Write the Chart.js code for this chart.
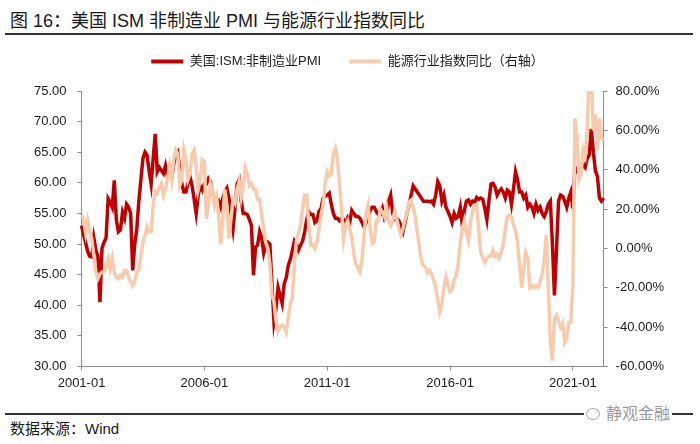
<!DOCTYPE html>
<html>
<head>
<meta charset="utf-8">
<script src="https://cdn.jsdelivr.net/npm/chart.js@4.4.1/dist/chart.umd.min.js"></script>
<style>
  body { margin: 0; width: 700px; height: 444px; background: #fff; position: relative; overflow: hidden;
         font-family: "Liberation Sans", "Noto Sans CJK SC", sans-serif; }
  #title { position: absolute; left: 10px; top: 6px; font-size: 18px; color: #1a1a1a; white-space: nowrap; }
  .rule { position: absolute; left: 5px; width: 688px; background: #333; }
  #source { position: absolute; left: 10px; top: 417px; font-size: 15px; color: #1a1a1a; }
  #mark { position: absolute; left: 584px; top: 400px; font-size: 16px; color: #9a9a9a; background: #fff; padding: 0 2px; }
  #mark i { display: inline-block; width: 12px; height: 10px; border: 1px solid #aaa; border-radius: 50%; margin-right: 6px; vertical-align: -1px; }
  #wrap { position: absolute; left: 0; top: 27px; width: 700px; height: 373px; }
</style>
</head>
<body>
<div id="title">图 16：美国 ISM 非制造业 PMI 与能源行业指数同比</div>
<div class="rule" style="top:33px;height:2px;"></div>
<div id="wrap"><canvas id="pmiChart"></canvas></div>
<div class="rule" style="top:413px;height:1.5px;"></div>
<div id="mark"><i></i>静观金融</div>
<div id="source">数据来源：Wind</div>

<script>
// Monthly categories 2001-01 .. 2022-04
const months = [];
for (let y = 2001; y <= 2022; y++) {
  for (let m = 1; m <= 12; m++) {
    if (y === 2022 && m > 4) break;
    months.push(y + '-' + String(m).padStart(2, '0'));
  }
}
const xTickLabels = ['2001-01', '2006-01', '2011-01', '2016-01', '2021-01'];

// 美国:ISM:非制造业PMI (left axis)
const pmi = [
  53.0, 51.5, 50.2, 48.8, 48.0, 47.9, 51.0, 49.0, 48.0, 40.5,
  49.3, 50.3, 51.0, 57.4, 56.8, 56.0, 60.4, 54.0, 52.0, 52.3,
  55.2, 54.2, 56.5, 56.0, 55.0, 45.7, 50.0, 52.5, 57.0, 60.5,
  64.0, 65.0, 64.5, 62.0, 59.8, 64.0, 68.0, 61.8, 62.5, 62.0,
  61.5, 62.8, 61.0,
  61.5, 60.8, 63.0, 64.5, 65.0, 62.0, 59.8, 58.5, 58.5, 60.0,
  61.0, 59.5, 57.3, 55.0, 58.0, 59.5, 58.8, 59.8, 59.8, 60.7,
  60.2, 58.5, 57.0, 56.5, 57.0, 56.0, 57.5, 58.5, 59.1, 57.5,
  55.0, 52.5, 56.0, 59.8, 60.5, 57.0, 55.0, 55.0, 54.8, 54.0,
  53.0, 44.9,
  49.5, 49.8, 52.0, 51.0, 48.5, 49.8, 50.3, 50.0, 43.5, 37.3,
  39.5, 42.9, 41.6, 40.3, 43.5, 44.5, 46.5, 47.5, 49.0, 50.5,
  50.0, 49.0, 49.8, 50.5, 52.0, 54.0, 55.3, 54.8, 54.8, 53.5,
  53.8, 55.3, 55.8, 57.5, 57.8, 58.0, 58.3, 56.5, 55.0, 54.2,
  54.2, 53.8, 54.2,
  54.0, 53.0, 54.2, 53.5, 55.5, 55.0, 54.5, 54.5, 54.2, 53.5,
  52.8, 53.5, 54.5, 55.5, 56.0, 56.0, 55.3, 54.8, 54.8, 55.8,
  54.2, 54.8, 57.0, 58.0, 55.0, 54.0, 54.2, 53.8, 53.0, 52.0,
  53.5, 55.0, 56.5, 58.0, 59.5, 59.0, 58.5, 58.0, 57.5, 57.0,
  57.0, 57.0,
  56.9, 57.0, 56.5, 58.0, 60.2, 59.5, 57.0, 58.0, 56.0, 55.3,
  54.5, 53.5, 55.0, 54.2, 54.5, 56.0, 53.1, 55.5, 57.0, 57.2,
  56.5, 57.0, 56.8, 57.6, 57.3, 57.5, 57.3, 55.8, 54.0, 57.0,
  59.8, 59.9, 59.3, 58.0, 58.6, 59.0, 58.5, 57.5, 58.8, 58.5,
  56.5, 59.0, 61.8,
  60.5, 58.5, 58.5, 57.5, 58.0, 56.0, 56.5, 56.0, 55.0, 56.5,
  55.5, 56.0, 55.0, 54.5, 55.3, 56.5, 57.0, 50.0, 41.6, 49.0,
  57.0, 58.0, 57.8, 57.0, 56.0, 57.5, 58.5, 55.8, 62.5, 62.0,
  62.9, 62.3, 62.9, 62.5, 64.0, 64.5, 68.8, 65.0, 62.0, 61.0,
  57.5, 57.0, 57.5
];

// 能源行业指数同比 (right axis, %)
const energyYoy = [
  16.8, 15.0, 8.0, 14.0, 8.0, 5.0, -3.5, -12.0, -15.4, -13.0,
  -12.0, -12.0, -8.6, -5.2, -10.3, -5.2, -12.0, -14.6, -15.4, -13.7,
  -14.6, -11.2, -11.2, -14.6, -17.0, -19.0, -17.0, -12.0, -11.2, -3.5,
  3.3, 6.7, 11.0, 8.4, 8.4, 22.0, 28.7, 27.9, 31.3, 33.0,
  27.0, 30.4, 35.2,
  42, 35, 45, 50, 48, 32, 35, 50, 45, 35,
  38, 48, 50, 42, 30, 35, 45, 44, 15, 22,
  33, 30, 22, 26, 16, 2, 15, 30, 22, 5,
  15, 25, 23, 30, 34, 26, 32, 41, 38, 32,
  33, 30,
  30, 25, 25, 17, 10, 3, 0, -8, -24, -27,
  -37, -42, -40, -39, -40, -42.6, -35, -28, -25, -8,
  4, 8, 11.7, 20, 27, 27, 12, 1.6, 2, 0,
  3, 10, 17, 22, 33, 39, 37, 38, 48, 50.8,
  45, 33, 20,
  5, 12, 14, 10, 6, -3, -8, -10, -12, -6,
  6.7, 17.7, 22, 10, 2.4, 3.3, 14, 14, 20, 18.5,
  16, 21, 14, 11.7, 14, 19, 15, 10, 7, 10,
  14.6, 17.7, 23.6, 24.5, 21, 16, 8.4, 0.8, -6, -8.6,
  -9.5, -12.4,
  -11, -13, -16, -20, -26, -32.4, -29, -20, -14.6, -19,
  -22, -21, -16, -14, -8, 3, 10, 14, 8, 4,
  13, 19, 22, 22, 10, -2, -5, -7, -5, -4,
  -4, -1, -4, -3, -5, -2, 2, 10, 16, 17,
  16, 12, 9,
  3, -8.6, -20, -10, -2, -5, -20, -19, -20, -19,
  -20, -17, -13, -6, 6.7, -20, -48, -57, -35.8, -34,
  -37, -40, -38, -48, -46, -37.5, -37.5, -19, 66, 58,
  35, 38, 50, 47, 60, 90, 88, 60, 68, 50,
  66, 56, 55
];

const fontFamily = '"Liberation Sans", "Noto Sans CJK SC", sans-serif';
const axisColor = '#8c8c8c';

// extra space between legend and plot
const legendGap = {
  id: 'legendGap',
  beforeInit(chart) {
    const fit = chart.legend.fit;
    chart.legend.fit = function () {
      fit.bind(chart.legend)();
      this.height += 13;
    };
  }
};

document.addEventListener('DOMContentLoaded', function () {
  const ctx = document.getElementById('pmiChart').getContext('2d');
  new Chart(ctx, {
    type: 'line',
    data: {
      labels: months,
      datasets: [{
        label: '美国:ISM:非制造业PMI',
        data: pmi,
        yAxisID: 'y',
        borderColor: '#c00000',
        backgroundColor: '#c00000',
        borderWidth: 3.5,
        pointRadius: 0,
        tension: 0,
        order: 1
      }, {
        label: '能源行业指数同比（右轴）',
        data: energyYoy,
        yAxisID: 'y1',
        borderColor: '#f8cbad',
        backgroundColor: '#f8cbad',
        borderWidth: 3.5,
        pointRadius: 0,
        tension: 0,
        order: 0
      }]
    },
    options: {
      responsive: true,
      maintainAspectRatio: false,
      animation: false,
      layout: { padding: { left: 23, right: 28, top: 0, bottom: 4 } },
      plugins: {
        legend: {
          display: true,
          position: 'top',
          labels: {
            boxWidth: 32,
            boxHeight: 4,
            padding: 28,
            color: '#1a1a1a',
            font: { family: fontFamily, size: 13 },
            sort: (a, b) => a.datasetIndex - b.datasetIndex,
            generateLabels: (chart) =>
              Chart.defaults.plugins.legend.labels.generateLabels(chart).map(l => ({ ...l, lineWidth: 0 }))
          }
        },
        tooltip: { enabled: false }
      },
      scales: {
        x: {
          type: 'category',
          grid: { display: true, drawOnChartArea: false, tickLength: 4, color: axisColor },
          border: { display: true, color: axisColor },
          ticks: {
            autoSkip: false,
            maxRotation: 0,
            padding: 5,
            color: '#1a1a1a',
            font: { family: fontFamily, size: 13 },
            callback: function (val, idx) {
              const lab = months[idx];
              return xTickLabels.includes(lab) ? lab : null;
            }
          }
        },
        y: {
          position: 'left',
          min: 30,
          max: 75,
          grid: { display: true, drawOnChartArea: false, tickLength: 4, color: axisColor },
          border: { display: true, color: axisColor },
          ticks: {
            stepSize: 5,
            padding: 11,
            color: '#1a1a1a',
            font: { family: fontFamily, size: 13 },
            callback: v => v.toFixed(2)
          }
        },
        y1: {
          position: 'right',
          min: -60,
          max: 80,
          grid: { display: true, drawOnChartArea: false, tickLength: 4, color: axisColor },
          border: { display: true, color: axisColor },
          ticks: {
            stepSize: 20,
            padding: 8,
            color: '#1a1a1a',
            font: { family: fontFamily, size: 13 },
            callback: v => v.toFixed(2) + '%'
          }
        }
      }
    },
    plugins: [legendGap]
  });
});
</script>
</body>
</html>
